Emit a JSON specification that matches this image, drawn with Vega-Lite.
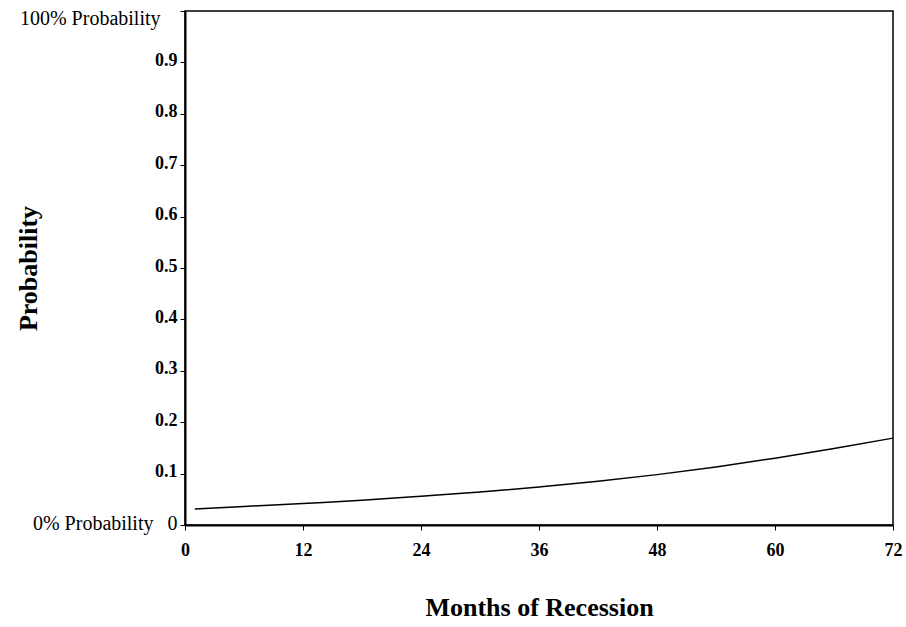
{
  "$schema": "https://vega.github.io/schema/vega-lite/v6.json",
  "width": 708,
  "height": 514,
  "autosize": "none",
  "padding": {"left": 185, "top": 11, "right": 13, "bottom": 102},
  "background": "white",
  "config": {
    "view": {"stroke": "black", "strokeWidth": 1.5},
    "font": "Liberation Serif"
  },
  "data": {
    "values": [
      {"month": 1, "probability": 0.031},
      {"month": 6, "probability": 0.036},
      {"month": 12, "probability": 0.042},
      {"month": 18, "probability": 0.048},
      {"month": 24, "probability": 0.056},
      {"month": 30, "probability": 0.064},
      {"month": 36, "probability": 0.074},
      {"month": 42, "probability": 0.085},
      {"month": 48, "probability": 0.098},
      {"month": 54, "probability": 0.113},
      {"month": 60, "probability": 0.130},
      {"month": 66, "probability": 0.149},
      {"month": 72, "probability": 0.169}
    ]
  },
  "mark": {"type": "line", "color": "black", "strokeWidth": 1.5, "interpolate": "monotone"},
  "encoding": {
    "x": {
      "field": "month",
      "type": "quantitative",
      "scale": {"domain": [0, 72], "nice": false, "zero": false},
      "axis": {
        "title": "Months of Recession",
        "titleFont": "Liberation Serif",
        "titleFontSize": 26,
        "titleFontWeight": "bold",
        "titleColor": "black",
        "titleX": 354,
        "titleY": 82,
        "titleBaseline": "middle",
        "titleAlign": "center",
        "values": [0, 12, 24, 36, 48, 60, 72],
        "grid": false,
        "domainColor": "black",
        "domainWidth": 2,
        "tickColor": "black",
        "tickSize": 5,
        "tickWidth": 1,
        "labelFont": "Liberation Serif",
        "labelFontSize": 18,
        "labelFontWeight": "bold",
        "labelColor": "black",
        "labelPadding": 11,
        "labelFlush": false
      }
    },
    "y": {
      "field": "probability",
      "type": "quantitative",
      "scale": {"domain": [0, 1], "nice": false},
      "axis": {
        "title": "Probability",
        "titleFont": "Liberation Serif",
        "titleFontSize": 26,
        "titleFontWeight": "bold",
        "titleColor": "black",
        "titleAngle": -90,
        "titleX": -157,
        "titleY": 257,
        "titleAlign": "center",
        "titleBaseline": "middle",
        "values": [0, 0.1, 0.2, 0.3, 0.4, 0.5, 0.6, 0.7, 0.8, 0.9, 1],
        "grid": false,
        "domainColor": "black",
        "domainWidth": 2,
        "tickColor": "black",
        "tickSize": 5,
        "tickWidth": 1,
        "labelFont": "Liberation Serif",
        "labelColor": "black",
        "labelFlush": false,
        "labelExpr": "datum.value == 1 ? '100% Probability' : datum.value == 0 ? '0% Probability\u2002\u20090' : format(datum.value, '.1f')",
        "labelFontSize": {"condition": {"test": "datum.value == 0 || datum.value == 1", "value": 20}, "value": 18},
        "labelFontWeight": {"condition": {"test": "datum.value == 0 || datum.value == 1", "value": "normal"}, "value": "bold"},
        "labelPadding": {"condition": {"test": "datum.value == 1", "value": 20}, "value": 3},
        "labelOffset": {"condition": {"test": "datum.value == 1", "value": 7}, "value": -2}
      }
    }
  }
}
